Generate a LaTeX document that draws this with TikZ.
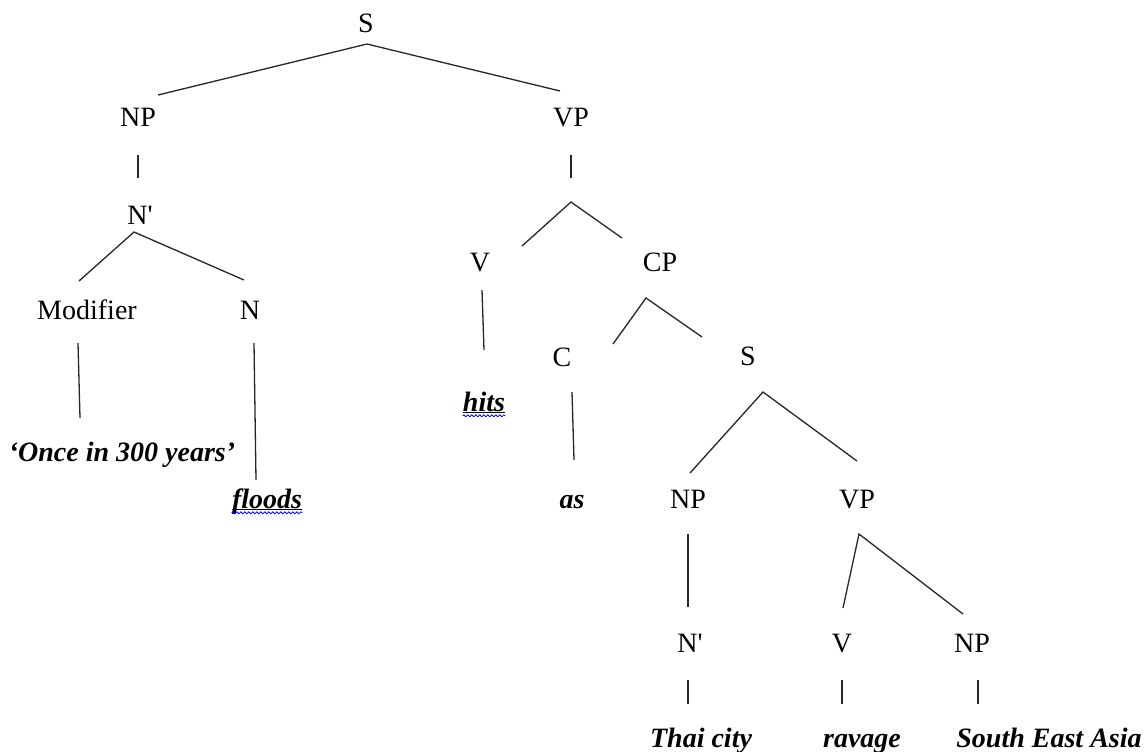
\documentclass[tikz,border=0pt]{standalone}
\usepackage{fontspec}
\setmainfont{Liberation Serif}
\usetikzlibrary{decorations.pathmorphing}

\tikzset{
  cat/.style = {inner sep = 0pt, anchor = base, font = \fontsize{14}{16}\selectfont},
  word/.style = {cat, font = \fontsize{14}{16}\selectfont\bfseries\itshape},
  branch/.style = {line width = 0.65pt, black!85},
  squiggle/.style = {blue, line width = 0.4pt, decorate,
    decoration = {snake, amplitude = 0.5pt, segment length = 2pt}}
}

\begin{document}
\begin{tikzpicture}[x = 0.5pt, y = -0.5pt]
\useasboundingbox (0,0) rectangle (1145,751);
% categories
\node[cat] (s) at (366,32) {S};
\node[cat] (np) at (138,126) {NP};
\node[cat] (vp) at (571,126) {VP};
\node[cat] (nbar) at (140,224) {N\textquotesingle};
\node[cat] (v) at (480,271) {V};
\node[cat] (cp) at (660,271) {CP};
\node[cat] (mod) at (87,319) {Modifier};
\node[cat] (n) at (250,319) {N};
\node[cat] (c) at (562,366) {C};
\node[cat] (s2) at (748,365) {S};
\node[cat] (np2) at (688,508) {NP};
\node[cat] (vp2) at (857,508) {VP};
\node[cat] (nbar2) at (690,652) {N\textquotesingle};
\node[cat] (v2) at (842,652) {V};
\node[cat] (np3) at (972,652) {NP};
% words
\node[word] (hits) at (484,411) {hits};
\node[word] (once) at (122,461) {`Once in 300 years'};
\node[word] (floods) at (267,508) {floods};
\node[word] (as) at (572,508) {as};
\node[word] (thai) at (701,747) {Thai city};
\node[word] (ravage) at (862,747) {ravage};
\node[word] (sea) at (1049,747) {South East Asia};
% line ends
\coordinate (s-j) at (367,44);
\coordinate (np-t) at (158,95);
\coordinate (vp-t) at (560,91);
\coordinate (np-d) at (138,155);
\coordinate (nbar-t) at (138,178);
\coordinate (vp-d) at (571,155);
\coordinate (vp-e) at (571,178);
\coordinate (vp-j) at (571,202);
\coordinate (v-t) at (522,246);
\coordinate (cp-t) at (622,238);
\coordinate (nbar-j) at (134,232);
\coordinate (mod-t) at (79,281);
\coordinate (n-t) at (244,280);
\coordinate (mod-d) at (78,343);
\coordinate (once-t) at (80,418);
\coordinate (n-d) at (254,343);
\coordinate (floods-t) at (256,480);
\coordinate (v-d) at (482,290);
\coordinate (hits-t) at (484,350);
\coordinate (cp-j) at (646,298);
\coordinate (c-t) at (613,344);
\coordinate (s2-t) at (702,337);
\coordinate (c-d) at (572,392);
\coordinate (as-t) at (574,460);
\coordinate (s2-j) at (763,392);
\coordinate (np2-t) at (690,473);
\coordinate (vp2-t) at (857,461);
\coordinate (np2-d) at (688,534);
\coordinate (nbar2-t) at (688,607);
\coordinate (vp2-j) at (859,534);
\coordinate (v2-t) at (843,608);
\coordinate (np3-t) at (963,614);
\coordinate (nbar2-d) at (688,680);
\coordinate (thai-t) at (688,704);
\coordinate (v2-d) at (842,680);
\coordinate (ravage-t) at (842,704);
\coordinate (np3-d) at (978,680);
\coordinate (sea-t) at (978,704);
% branches
\draw[branch] (np-t) -- (s-j) -- (vp-t);
\draw[branch] (np-d) -- (nbar-t);
\draw[branch] (vp-d) -- (vp-e);
\draw[branch] (v-t) -- (vp-j) -- (cp-t);
\draw[branch] (mod-t) -- (nbar-j) -- (n-t);
\draw[branch] (mod-d) -- (once-t);
\draw[branch] (n-d) -- (floods-t);
\draw[branch] (v-d) -- (hits-t);
\draw[branch] (c-t) -- (cp-j) -- (s2-t);
\draw[branch] (c-d) -- (as-t);
\draw[branch] (np2-t) -- (s2-j) -- (vp2-t);
\draw[branch] (np2-d) -- (nbar2-t);
\draw[branch] (v2-t) -- (vp2-j) -- (np3-t);
\draw[branch] (nbar2-d) -- (thai-t);
\draw[branch] (v2-d) -- (ravage-t);
\draw[branch] (np3-d) -- (sea-t);
% underlines
\draw[line width = 0.5pt] ([yshift=-0.8pt]hits.base west) -- ([yshift=-0.8pt]hits.base east);
\draw[squiggle] ([yshift=-2.4pt]hits.base west) -- ([yshift=-2.4pt]hits.base east);
\draw[line width = 0.5pt] ([yshift=-0.8pt]floods.base west) -- ([yshift=-0.8pt]floods.base east);
\draw[squiggle] ([yshift=-2.4pt]floods.base west) -- ([yshift=-2.4pt]floods.base east);
\end{tikzpicture}
\end{document}
